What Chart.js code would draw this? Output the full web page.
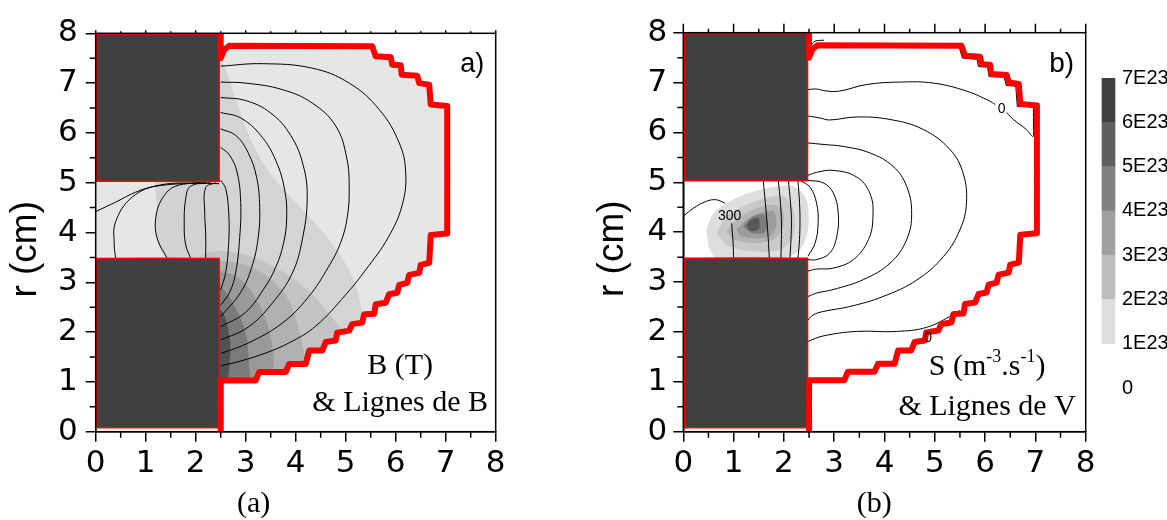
<!DOCTYPE html>
<html>
<head>
<meta charset="utf-8">
<script src="https://cdn.jsdelivr.net/npm/chart.js@4/dist/chart.umd.min.js"></script>
<style>
  body { margin: 0; background: #fff; width: 1167px; height: 520px; overflow: hidden; position: relative; }
  canvas { position: absolute; top: 0; }
  #panelA { left: 0; }
  #panelB { left: 590px; }
  #cbar { left: 1095px; }
</style>
</head>
<body>
<canvas id="panelA" width="590" height="520"></canvas>
<canvas id="panelB" width="520" height="520"></canvas>
<canvas id="cbar" width="72" height="520"></canvas>
<script>
const SANS = '"Liberation Sans", Arial, sans-serif';
const WIDE = '"DejaVu Sans", Verdana, sans-serif';
const SERIF = '"Liberation Serif", "Times New Roman", serif';

// axes (cm)
const axisTicks = [0, 1, 2, 3, 4, 5, 6, 7, 8];
const minorTicks = [0.5, 1.5, 2.5, 3.5, 4.5, 5.5, 6.5, 7.5];

// colour scale of S
const cbarLabels = ['0', '1E23', '2E23', '3E23', '4E23', '5E23', '6E23', '7E23'];
const cbarColors = ['#dddddd', '#bdbdbd', '#a0a0a0', '#808080', '#5f5f5f', '#404040'];

// chamber wall (red), same in both panels
const wall = [[2.5, 0], [2.5, 1.03], [3.2, 1.03], [3.27, 1.2], [3.8, 1.2], [3.87, 1.36], [4.2, 1.36],
  [4.27, 1.63], [4.53, 1.63], [4.6, 1.8], [4.8, 1.83], [4.83, 1.99], [5.07, 2.03], [5.13, 2.16],
  [5.33, 2.19], [5.37, 2.36], [5.57, 2.37], [5.6, 2.56], [5.8, 2.59], [5.87, 2.76], [6.03, 2.79],
  [6.07, 2.95], [6.23, 2.99], [6.27, 3.15], [6.47, 3.19], [6.5, 3.35], [6.67, 3.39], [6.7, 3.95],
  [7.03, 3.98], [7.03, 6.54], [6.7, 6.57], [6.67, 6.97], [6.47, 7.0], [6.43, 7.15], [6.12, 7.17],
  [6.1, 7.36], [5.93, 7.37], [5.9, 7.52], [5.6, 7.54], [5.53, 7.74], [2.67, 7.75], [2.57, 7.67],
  [2.5, 7.5], [2.5, 8]];

// pole pieces
const yokeTop = [[0.02, 5.03], [2.47, 5.03], [2.47, 7.98], [0.02, 7.98], [0.02, 5.03]];
const yokeBottom = [[0.02, 0.08], [2.47, 0.08], [2.47, 3.48], [0.02, 3.48], [0.02, 0.08]];

// a) B field level regions
const gapRegion = [[2.44, 5.03], [0, 5.03], [0, 3.48], [2.44, 3.48]];
const bandGap = [[1.17, 5.03], [2.44, 5.03], [2.44, 3.48], [1.43, 3.48], [1.2, 4.02], [1.23, 4.48]];
const bandA = [[2.44, 7.5], [2.57, 7.37], [2.8, 6.67], [3.13, 5.81], [3.47, 5.21], [4.0, 4.61], [4.53, 4.02],
  [4.93, 3.49], [5.2, 2.95], [5.33, 2.4], [5.45, 1.9], [5.0, 0.9], [2.44, 0.9]];
const bandB = [[2.0, 3.4], [2.2, 3.59], [2.67, 3.62], [3.2, 3.49], [3.73, 3.22], [4.27, 2.82], [4.67, 2.36],
  [4.93, 2.03], [5.1, 1.6], [4.6, 0.9], [2.0, 0.9]];
const bandC = [[2.44, 3.45], [3.0, 3.35], [3.39, 3.15], [3.72, 2.85], [3.93, 2.5], [4.1, 1.9], [4.2, 1.3],
  [4.1, 0.9], [2.44, 0.9]];
const bandD = [[2.44, 3.25], [2.8, 3.12], [3.05, 2.9], [3.3, 2.5], [3.45, 2.1], [3.55, 1.6], [3.55, 1.24],
  [3.5, 0.9], [2.44, 0.9]];
const bandE = [[2.44, 2.95], [2.62, 2.78], [2.79, 2.5], [2.95, 2.15], [3.03, 1.84], [3.06, 1.4], [3.05, 0.95], [2.44, 0.95]];
const bandF = [[2.44, 2.5], [2.55, 2.38], [2.63, 2.15], [2.69, 1.8], [2.68, 1.4], [2.62, 1.04], [2.44, 1.0]];
const bandColors = ['#e6e6e6', '#d2d2d2', '#d4d4d4', '#c3c3c3', '#b0b0b0', '#999999', '#7b7b7b', '#525252'];

// a) lines of B
const fieldLines = [
  [[2.5, 7.34], [3.33, 7.39], [4.33, 7.3], [5.07, 7.0], [5.67, 6.47], [6.07, 5.8], [6.2, 5.21], [6.13, 4.55],
    [5.85, 3.9], [5.4, 3.25], [5.0, 2.75], [4.4, 2.12], [3.9, 1.8], [3.4, 1.58], [2.9, 1.42], [2.5, 1.32]],
  [[2.5, 7.02], [3.0, 7.0], [3.73, 6.87], [4.33, 6.6], [4.8, 6.14], [5.02, 5.5], [5.07, 4.88], [5.03, 4.3],
    [4.9, 3.8], [4.65, 3.3], [4.25, 2.7], [3.73, 2.18], [3.05, 1.78], [2.5, 1.57]],
  [[2.5, 6.71], [3.0, 6.65], [3.5, 6.4], [3.9, 5.95], [4.15, 5.35], [4.23, 4.68], [4.13, 3.85], [3.93, 3.18],
    [3.53, 2.58], [3.05, 2.1], [2.5, 1.84]],
  [[2.5, 6.41], [2.9, 6.3], [3.3, 5.95], [3.6, 5.45], [3.78, 4.85], [3.82, 4.3], [3.76, 3.8], [3.6, 3.3],
    [3.35, 2.85], [2.99, 2.39], [2.5, 2.11]],
  [[2.5, 6.08], [2.8, 5.95], [3.05, 5.6], [3.22, 5.1], [3.28, 4.5], [3.25, 3.9], [3.12, 3.3], [2.9, 2.8], [2.5, 2.31]],
  [[2.5, 5.71], [2.68, 5.55], [2.83, 5.2], [2.9, 4.6], [2.88, 3.9], [2.8, 3.2], [2.68, 2.8], [2.5, 2.54]],
  [[2.5, 5.05], [2.6, 4.88], [2.66, 4.4], [2.66, 3.8], [2.6, 3.2], [2.5, 2.85]],
  [[2.4, 5.0], [2.2, 4.9], [2.18, 4.4], [2.2, 3.95], [2.2, 3.48]],
  [[2.3, 5.0], [1.9, 4.93], [1.8, 4.68], [1.77, 4.15], [1.8, 3.75], [1.9, 3.48]],
  [[2.2, 5.0], [1.6, 4.93], [1.33, 4.68], [1.2, 4.28], [1.23, 3.88], [1.43, 3.48]],
  [[2.1, 5.0], [1.27, 4.95], [0.73, 4.71], [0.4, 4.22], [0.37, 3.75], [0.4, 3.48]],
  [[0, 4.42], [0.4, 4.61], [0.8, 4.81], [1.2, 4.93], [2.0, 4.99], [2.47, 4.98]],
];

// b) source term S, levels 1E23 .. 6E23
const sourceLevels = [
  [[0.46, 4.05], [0.6, 4.38], [0.93, 4.62], [1.32, 4.79], [1.72, 4.89], [2.19, 4.92], [2.45, 4.65], [2.48, 4.05],
    [2.32, 3.65], [1.99, 3.48], [0.66, 3.48], [0.5, 3.72]],
  [[0.66, 3.98], [0.86, 4.32], [1.26, 4.55], [1.66, 4.69], [1.99, 4.72], [2.19, 4.45], [2.19, 3.92], [1.92, 3.65],
    [1.32, 3.62], [0.86, 3.72]],
  [[0.86, 4.02], [1.06, 4.25], [1.39, 4.45], [1.72, 4.55], [1.95, 4.49], [1.99, 4.12], [1.79, 3.85], [1.39, 3.78],
    [0.99, 3.85]],
  [[1.06, 4.05], [1.26, 4.25], [1.52, 4.38], [1.79, 4.42], [1.85, 4.15], [1.72, 3.92], [1.39, 3.88], [1.13, 3.92]],
  [[1.19, 4.12], [1.39, 4.32], [1.62, 4.35], [1.69, 4.15], [1.59, 3.98], [1.36, 3.98]],
  [[1.26, 4.15], [1.36, 4.26], [1.49, 4.28], [1.51, 4.08], [1.39, 4.02], [1.29, 4.05]],
];
const sourceColors = ['#dedede', '#c9c9c9', '#b4b4b4', '#9c9c9c', '#7c7c7c', '#585858'];

// b) lines of V
const potentialLines = [
  [[2.48, 6.86], [2.65, 6.87], [2.85, 6.83], [3.11, 6.83], [3.64, 6.96], [4.3, 7.01], [4.97, 6.99], [5.63, 6.83],
    [6.09, 6.63], [6.2, 6.56]],
  [[6.43, 6.4], [6.56, 6.26], [6.82, 6.06], [6.95, 5.92], [6.96, 6.06], [6.96, 6.53]],
  [[2.48, 1.81], [2.78, 1.92], [3.44, 2.01], [4.24, 2.01], [4.83, 2.09], [5.3, 2.31], [5.5, 2.43]],
  [[2.48, 6.33], [2.72, 6.29], [2.91, 6.25], [3.44, 6.31], [4.11, 6.26], [4.77, 6.06], [5.3, 5.66], [5.56, 5.19],
    [5.63, 4.59], [5.5, 4.05], [5.17, 3.51], [4.64, 3.04], [3.97, 2.71], [3.31, 2.51], [2.78, 2.41], [2.58, 2.34], [2.48, 2.24]],
  [[2.48, 5.79], [2.78, 5.76], [3.18, 5.72], [3.71, 5.59], [4.17, 5.32], [4.44, 4.92], [4.54, 4.38], [4.44, 3.85],
    [4.11, 3.38], [3.58, 3.05], [2.98, 2.85], [2.65, 2.78], [2.48, 2.71]],
  [[2.48, 5.14], [2.65, 5.2], [2.98, 5.24], [3.44, 5.11], [3.71, 4.78], [3.77, 4.31], [3.68, 3.85], [3.38, 3.45],
    [2.98, 3.28], [2.65, 3.26], [2.48, 3.22]],
  [[2.48, 5.04], [2.78, 4.99], [2.98, 4.79], [3.08, 4.39], [3.05, 3.91], [2.91, 3.58], [2.65, 3.45], [2.48, 3.45]],
  [[2.32, 5.04], [2.52, 4.9], [2.65, 4.58], [2.68, 4.18], [2.62, 3.78], [2.48, 3.52]],
  [[0, 4.32], [0.2, 4.48], [0.46, 4.62], [0.66, 4.65], [0.83, 4.58]],
  [[0.96, 4.18], [0.99, 3.78], [1.0, 3.45]],
  [[1.59, 5.03], [1.63, 4.6], [1.66, 4.25], [1.69, 3.85], [1.71, 3.48]],
  [[1.89, 5.03], [1.93, 4.6], [1.95, 4.25], [1.95, 3.85], [1.94, 3.48]],
  [[2.09, 5.03], [2.13, 4.6], [2.15, 4.25], [2.14, 3.85], [2.12, 3.48]],
  [[2.28, 5.03], [2.31, 4.6], [2.32, 4.25], [2.31, 3.85], [2.28, 3.48]],
];
// b) the 0 line running along the inside of the upper wall
const zeroAlongWall = [[6.96, 6.53], [6.64, 6.52], [6.61, 6.93], [6.42, 6.94], [6.38, 7.11], [6.08, 7.12],
  [6.05, 7.31], [5.87, 7.32], [5.84, 7.47], [5.55, 7.49], [5.49, 7.69]];
const zeroTopCorner = [[2.5, 7.52], [2.54, 7.74], [2.62, 7.83], [2.8, 7.85]];

const pts = (arr) => arr.map(([x, y]) => ({ x, y }));

function area(arr, color, tension = 0.3) {
  return { data: pts(arr), fill: 'shape', backgroundColor: color, borderColor: color, borderWidth: 0, pointRadius: 0, tension };
}

function curve(arr, width = 1, color = '#000', tension = 0.4) {
  return { data: pts(arr), fill: false, borderColor: color, borderWidth: width, pointRadius: 0, tension };
}

function block(arr) {
  return { data: pts(arr), fill: 'shape', backgroundColor: '#404040', borderColor: '#ff0000', borderWidth: 1.5, pointRadius: 0, tension: 0.001 };
}

function wallLine() {
  return { ...curve(wall, 6, '#ff0000', 0.001), borderJoinStyle: 'round' };
}

// first in list = bottom layer
function layers(list) {
  return list.map((d, i) => ({ ...d, order: list.length - i }));
}

const framePlugin = {
  id: 'frame',
  afterDatasetsDraw(chart, args, opts) {
    const { ctx, chartArea: a, scales: { x, y } } = chart;
    ctx.save();
    ctx.strokeStyle = '#000';
    ctx.lineWidth = 1.5;
    ctx.strokeRect(a.left, a.top, a.right - a.left, a.bottom - a.top);

    ctx.beginPath();
    minorTicks.forEach((v) => {
      const px = x.getPixelForValue(v);
      const py = y.getPixelForValue(v);
      ctx.moveTo(a.left - 6, py); ctx.lineTo(a.left, py);
      ctx.moveTo(px, a.bottom); ctx.lineTo(px, a.bottom + 6);
      ctx.moveTo(px, a.top); ctx.lineTo(px, a.top - opts.topMinor);
    });
    axisTicks.forEach((v) => {
      const px = x.getPixelForValue(v);
      ctx.moveTo(px, a.top); ctx.lineTo(px, a.top - opts.topMajor);
    });
    ctx.stroke();

    ctx.fillStyle = '#000';
    (opts.texts || []).forEach((t) => {
      ctx.font = t.font;
      ctx.textAlign = t.align || 'center';
      ctx.textBaseline = t.baseline || 'alphabetic';
      ctx.fillText(t.t, x.getPixelForValue(t.x), y.getPixelForValue(t.y));
    });

    if (opts.rich) {
      const r = opts.rich;
      ctx.textAlign = 'left';
      ctx.textBaseline = 'alphabetic';
      const widths = r.parts.map((p) => {
        ctx.font = `${p.sup ? r.size * 0.6 : r.size}px ${SERIF}`;
        return ctx.measureText(p.t).width;
      });
      let xx = x.getPixelForValue(r.x) - widths.reduce((s, w) => s + w, 0) / 2;
      const base = y.getPixelForValue(r.y);
      r.parts.forEach((p, i) => {
        ctx.font = `${p.sup ? r.size * 0.6 : r.size}px ${SERIF}`;
        ctx.fillText(p.t, xx, p.sup ? base - r.size * 0.43 : base);
        xx += widths[i];
      });
    }

    // axis title and caption
    ctx.textBaseline = 'alphabetic';
    ctx.save();
    ctx.font = `37px ${SANS}`;
    ctx.textAlign = 'center';
    ctx.translate(a.left - 60, a.top + 216);
    ctx.rotate(-Math.PI / 2);
    ctx.fillText('r (cm)', 0, 0);
    ctx.restore();

    ctx.font = `30px ${SERIF}`;
    ctx.textAlign = 'center';
    ctx.fillText(opts.caption, a.left + opts.captionDx, a.bottom + 80);
    ctx.restore();
  },
};

function panelOptions(yWidth, rightPad, topPad, labelPad, frame) {
  const tickFont = { family: WIDE, size: 31 };
  const axis = {
    type: 'linear',
    min: 0,
    max: 8,
    ticks: { stepSize: 1, color: '#000', font: tickFont },
    grid: { drawOnChartArea: false, drawTicks: true, tickLength: 10, color: '#000', lineWidth: 1.5 },
    border: { display: true, color: '#000', width: 1.5 },
  };
  return {
    responsive: false,
    animation: false,
    events: [],
    layout: { padding: { top: topPad, right: rightPad, left: 0, bottom: 0 } },
    plugins: { legend: { display: false }, tooltip: { enabled: false }, frame },
    scales: {
      x: { ...axis, ticks: { ...axis.ticks, padding: 4 }, afterFit: (s) => { s.height = 88.3; } },
      y: { ...axis, ticks: { ...axis.ticks, padding: labelPad }, afterFit: (s) => { s.width = yWidth; } },
    },
  };
}

// panel a
const datasetsA = layers([
  area(wall.slice(1, -1).concat(gapRegion), bandColors[0], 0.001),
  area(bandGap, bandColors[1]),
  area(bandA, bandColors[2]),
  area(bandB, bandColors[3]),
  area(bandC, bandColors[4]),
  area(bandD, bandColors[5]),
  area(bandE, bandColors[6]),
  area(bandF, bandColors[7]),
  area(wall.concat([[8, 8], [8, 0]]), '#ffffff', 0.001),
  ...fieldLines.map((l) => curve(l)),
  block(yokeTop),
  block(yokeBottom),
  wallLine(),
]);

new Chart(document.getElementById('panelA'), {
  type: 'line',
  data: { datasets: datasetsA },
  options: panelOptions(95.7, 94.3, 33.3, 8, {
    topMajor: 3,
    topMinor: 2,
    caption: '(a)',
    captionDx: 158,
    texts: [
      { t: 'a)', x: 7.77, y: 7.22, font: `27px ${SANS}`, align: 'right' },
      { t: 'B (T)', x: 6.09, y: 1.16, font: `30px ${SERIF}` },
      { t: '& Lignes de B', x: 6.09, y: 0.42, font: `30px ${SERIF}` },
    ],
  }),
  plugins: [framePlugin],
});

// panel b
const datasetsB = layers([
  ...sourceLevels.map((l, i) => area(l, sourceColors[i])),
  ...potentialLines.map((l) => curve(l)),
  curve(zeroAlongWall, 1, '#000', 0),
  curve(zeroTopCorner, 1, '#000', 0.3),
  block(yokeTop),
  block(yokeBottom),
  wallLine(),
]);

new Chart(document.getElementById('panelB'), {
  type: 'line',
  data: { datasets: datasetsB },
  options: panelOptions(93.3, 24.3, 32.7, 6, {
    topMajor: 9,
    topMinor: 4,
    caption: '(b)',
    captionDx: 191,
    texts: [
      { t: 'b)', x: 7.77, y: 7.21, font: `28px ${SANS}`, align: 'right' },
      { t: '& Lignes de V', x: 6.04, y: 0.34, font: `30px ${SERIF}` },
      { t: '300', x: 0.92, y: 4.32, font: `14px ${SANS}`, baseline: 'middle' },
      { t: '0', x: 6.33, y: 6.46, font: `14px ${SANS}`, baseline: 'middle' },
      { t: '0', x: 4.87, y: 1.87, font: `14px ${SANS}`, baseline: 'middle' },
    ],
    rich: {
      x: 6.04,
      y: 1.14,
      size: 30,
      parts: [{ t: 'S (m' }, { t: '-3', sup: true }, { t: '.s' }, { t: '-1', sup: true }, { t: ')' }],
    },
  }),
  plugins: [framePlugin],
});

// colour bar
new Chart(document.getElementById('cbar'), {
  type: 'bar',
  data: {
    labels: [''],
    datasets: cbarColors.map((c, i) => ({
      data: [[i + 1, i + 2]],
      backgroundColor: c,
      barThickness: 13,
      grouped: false,
    })),
  },
  options: {
    responsive: false,
    animation: false,
    events: [],
    layout: { padding: { top: 78, bottom: 132, left: 0, right: 0 } },
    plugins: { legend: { display: false }, tooltip: { enabled: false } },
    scales: {
      x: { display: false },
      y: {
        position: 'right',
        min: 0,
        max: 7,
        ticks: {
          stepSize: 1,
          padding: 0,
          color: '#000',
          font: { family: SANS, size: 20 },
          callback: (v) => cbarLabels[v],
        },
        grid: { display: false, drawTicks: false },
        border: { display: false },
        afterFit: (s) => { s.width = 45; },
      },
    },
  },
});
</script>
</body>
</html>
